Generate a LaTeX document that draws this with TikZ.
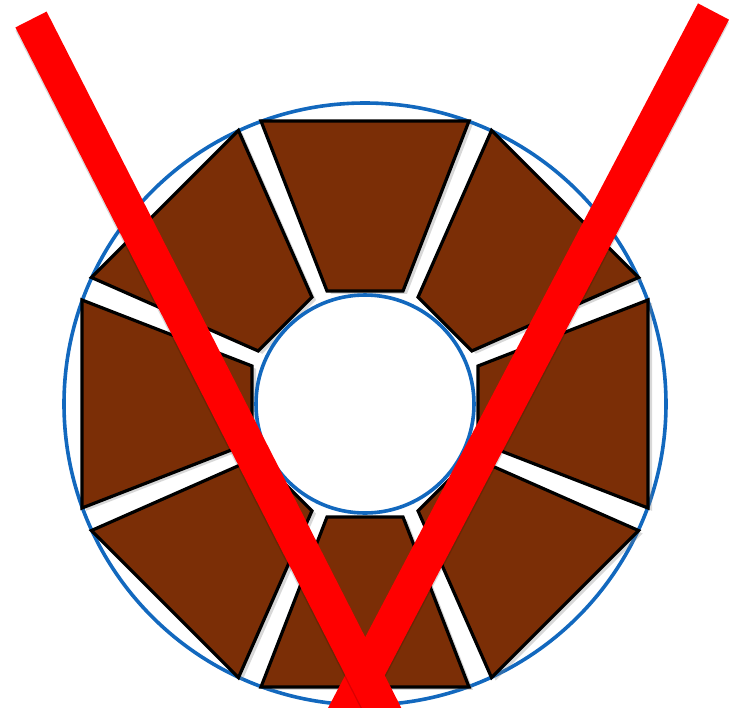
\documentclass[tikz,border=0pt]{standalone}
\usetikzlibrary{shadows}
\definecolor{segbrown}{RGB}{123,46,6}
\definecolor{ringblue}{RGB}{18,104,190}
\begin{document}
\begin{tikzpicture}[x=0.5pt, y=-0.5pt,
  ring/.style={draw=ringblue, line width=1.8pt, fill=white},
  seg/.style={draw=black, fill=segbrown, line width=1.6pt, line join=miter,
    drop shadow={shadow xshift=2pt, shadow yshift=-1.4pt, opacity=0.3}},
  bar/.style={draw=red, line width=17.5pt},
  barshade/.style={draw=black, opacity=0.15, line width=17.5pt}]
\useasboundingbox (0,0) rectangle (741,708);
\clip (0,0) rectangle (741,708);
\coordinate (c) at (365,404);
% rim of the ring
\draw[ring] (c) circle[radius=301];
% the eight segments
\foreach \a in {0,45,...,315}
  \draw[seg, shift={(c)}, rotate=\a] (-104,-283) -- (104,-283) -- (38,-113) -- (-38,-113) -- cycle;
% hole
\draw[ring] (c) circle[radius=109];
% the red V
\coordinate (ltop) at (31,19.5);
\coordinate (lbot) at (398,740);
\coordinate (rtop) at (713.5,11.5);
\coordinate (rbot) at (331,740);
\draw[barshade, transform canvas={yshift=-1.5pt}] (rtop) -- (rbot);
\draw[bar] (rtop) -- (rbot);
\draw[barshade, transform canvas={yshift=-1.5pt}] (ltop) -- (lbot);
\draw[bar] (ltop) -- (lbot);
\end{tikzpicture}
\end{document}
